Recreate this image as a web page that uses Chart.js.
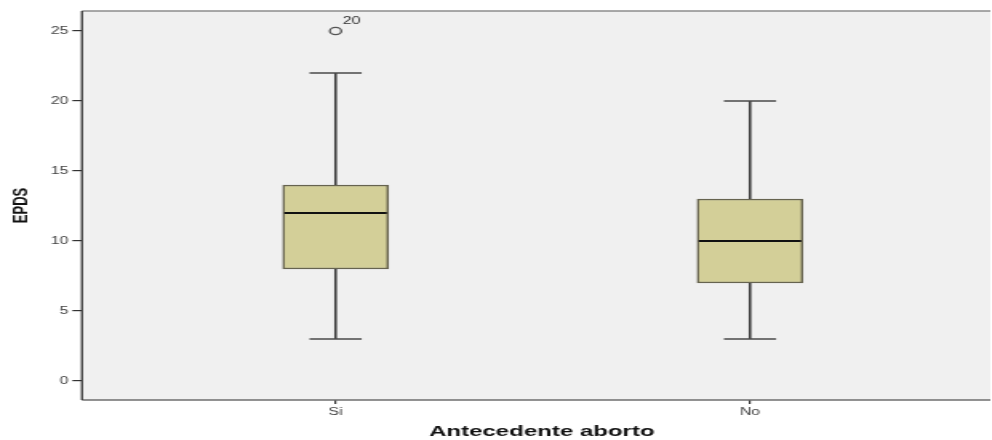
<!DOCTYPE html>
<html>
<head>
<meta charset="utf-8">
<script src="https://cdn.jsdelivr.net/npm/chart.js@4"></script>
<style>
    html, body { margin: 0; padding: 0; background: #ffffff; overflow: hidden; }
    /* the reference image is stretched sideways, so draw narrow and scale by 1.6;
       the extra 4.25px covers the overflow room Chart.js keeps for the outlier point */
    #wrap { width: 624.25px; height: 440px; transform: scaleX(1.6); transform-origin: 0 0; }
</style>
</head>
<body>
<div id="wrap"><canvas id="boxChart"></canvas></div>
<script>
// ============================================================================
// DATA
// ============================================================================

const categories = ['Si', 'No'];
const catPos = [1, 2];
const whiskerLow = [3, 3];
const q1 = [8, 7];
const median = [12, 10];
const q3 = [14, 13];
const whiskerHigh = [22, 20];

const outlierPos = [1];
const outlierValues = [25];
const outlierLabels = ['20'];

const yTicks = [0, 5, 10, 15, 20, 25];
const xTitle = 'Antecedente aborto';

// ============================================================================
// BOXPLOT PARTS (whiskers, caps, median, background, frame)
// ============================================================================

const boxplotParts = {
    id: 'boxplotParts',
    beforeDraw(chart) {
        const { ctx, chartArea } = chart;
        ctx.save();
        ctx.fillStyle = '#f0f0f0';
        ctx.fillRect(chartArea.left, chartArea.top, chartArea.right - chartArea.left, chartArea.bottom - chartArea.top);
        ctx.restore();
    },
    afterDatasetsDraw(chart) {
        const { ctx } = chart;
        const xs = chart.scales.x;
        const ys = chart.scales.y;
        const capHalf = 16.3;
        const boxHalf = 33;

        ctx.save();
        catPos.forEach((pos, i) => {
            const x = xs.getPixelForValue(pos);

            // whisker stems
            ctx.strokeStyle = '#3a3a3a';
            ctx.lineWidth = 1.6;
            ctx.beginPath();
            ctx.moveTo(x, ys.getPixelForValue(whiskerHigh[i]));
            ctx.lineTo(x, ys.getPixelForValue(q3[i]));
            ctx.moveTo(x, ys.getPixelForValue(q1[i]));
            ctx.lineTo(x, ys.getPixelForValue(whiskerLow[i]));
            ctx.stroke();

            // caps
            ctx.strokeStyle = '#4a4a4a';
            ctx.lineWidth = 1.4;
            ctx.beginPath();
            [whiskerHigh[i], whiskerLow[i]].forEach(v => {
                const y = ys.getPixelForValue(v);
                ctx.moveTo(x - capHalf, y);
                ctx.lineTo(x + capHalf, y);
            });
            ctx.stroke();

            // median
            ctx.strokeStyle = '#111111';
            ctx.lineWidth = 2;
            ctx.beginPath();
            const ym = ys.getPixelForValue(median[i]);
            ctx.moveTo(x - boxHalf + 1, ym);
            ctx.lineTo(x + boxHalf - 1, ym);
            ctx.stroke();
        });

        // outlier case numbers
        ctx.fillStyle = '#333333';
        ctx.font = '10px "Liberation Sans", Arial, sans-serif';
        ctx.textAlign = 'left';
        ctx.textBaseline = 'middle';
        outlierPos.forEach((pos, i) => {
            ctx.fillText(outlierLabels[i], xs.getPixelForValue(pos) + 4.4, ys.getPixelForValue(outlierValues[i]) - 10);
        });
        ctx.restore();
    },
    afterDraw(chart) {
        const { ctx, chartArea } = chart;
        ctx.save();
        ctx.lineWidth = 1.5;
        ctx.strokeStyle = '#8c8c8c';
        ctx.beginPath();
        ctx.moveTo(chartArea.left, chartArea.top);
        ctx.lineTo(chartArea.right, chartArea.top);
        ctx.stroke();
        ctx.strokeStyle = '#6e6e6e';
        ctx.beginPath();
        ctx.moveTo(chartArea.left, chartArea.bottom);
        ctx.lineTo(chartArea.right, chartArea.bottom);
        ctx.stroke();
        ctx.strokeStyle = '#333333';
        ctx.lineWidth = 1.3;
        ctx.beginPath();
        ctx.moveTo(chartArea.left, chartArea.top);
        ctx.lineTo(chartArea.left, chartArea.bottom);
        ctx.stroke();

        // x axis title, a little right of the plot centre as in SPSS output
        ctx.fillStyle = '#111111';
        ctx.font = 'bold 15px "Liberation Sans", Arial, sans-serif';
        ctx.textAlign = 'center';
        ctx.textBaseline = 'middle';
        ctx.fillText(xTitle, (chartArea.left + chartArea.right) / 2 + 3.5, chartArea.bottom + 32);
        ctx.restore();
    }
};

// ============================================================================
// CHART
// ============================================================================

const ctx = document.getElementById('boxChart');

new Chart(ctx, {
    type: 'bar',
    data: {
        datasets: [{
            label: 'EPDS',
            data: catPos.map((pos, i) => ({ x: pos, y: [q1[i], q3[i]] })),
            backgroundColor: '#d3cf98',
            borderColor: '#66634f',
            borderWidth: 1.5,
            borderSkipped: false,
            barThickness: 66,
            order: 2
        }, {
            type: 'scatter',
            label: 'Outliers',
            data: outlierPos.map((pos, i) => ({ x: pos, y: outlierValues[i] })),
            pointRadius: 3.6,
            pointBackgroundColor: 'rgba(0,0,0,0)',
            pointBorderColor: '#555555',
            pointBorderWidth: 1.3,
            order: 1
        }]
    },
    options: {
        responsive: true,
        maintainAspectRatio: false,
        animation: false,
        layout: {
            padding: { top: 11, right: 0, bottom: 0, left: 0 }
        },
        plugins: {
            legend: { display: false },
            tooltip: { enabled: false }
        },
        scales: {
            x: {
                type: 'linear',
                offset: false,
                min: 0.388,
                max: 2.58,
                afterBuildTicks: function(scale) {
                    scale.ticks = catPos.map(v => ({ value: v }));
                },
                afterFit: function(scale) {
                    scale.height = 40;
                },
                ticks: {
                    autoSkip: false,
                    maxRotation: 0,
                    padding: 2,
                    color: '#444444',
                    font: { family: '"Liberation Sans", Arial, sans-serif', size: 10 },
                    callback: function(value) {
                        const idx = catPos.indexOf(value);
                        return idx >= 0 ? categories[idx] : '';
                    }
                },
                grid: {
                    offset: false,
                    drawOnChartArea: false,
                    tickLength: 4,
                    color: '#333333',
                    lineWidth: 1.2
                },
                border: { display: false }
            },
            y: {
                min: -1.36,
                max: 26.43,
                afterBuildTicks: function(scale) {
                    scale.ticks = yTicks.map(v => ({ value: v }));
                },
                afterFit: function(scale) {
                    scale.width = 51.25;
                },
                ticks: {
                    padding: 2.5,
                    color: '#444444',
                    font: { family: '"Liberation Sans", Arial, sans-serif', size: 10 }
                },
                grid: {
                    drawOnChartArea: false,
                    tickLength: 6,
                    color: '#333333',
                    lineWidth: 1.2
                },
                border: { display: false },
                title: {
                    display: true,
                    text: 'EPDS',
                    color: '#111111',
                    padding: { top: 6, bottom: 0 },
                    font: { family: '"Liberation Sans", Arial, sans-serif', size: 13, weight: 'bold' }
                }
            }
        }
    },
    plugins: [boxplotParts]
});
</script>
</body>
</html>
